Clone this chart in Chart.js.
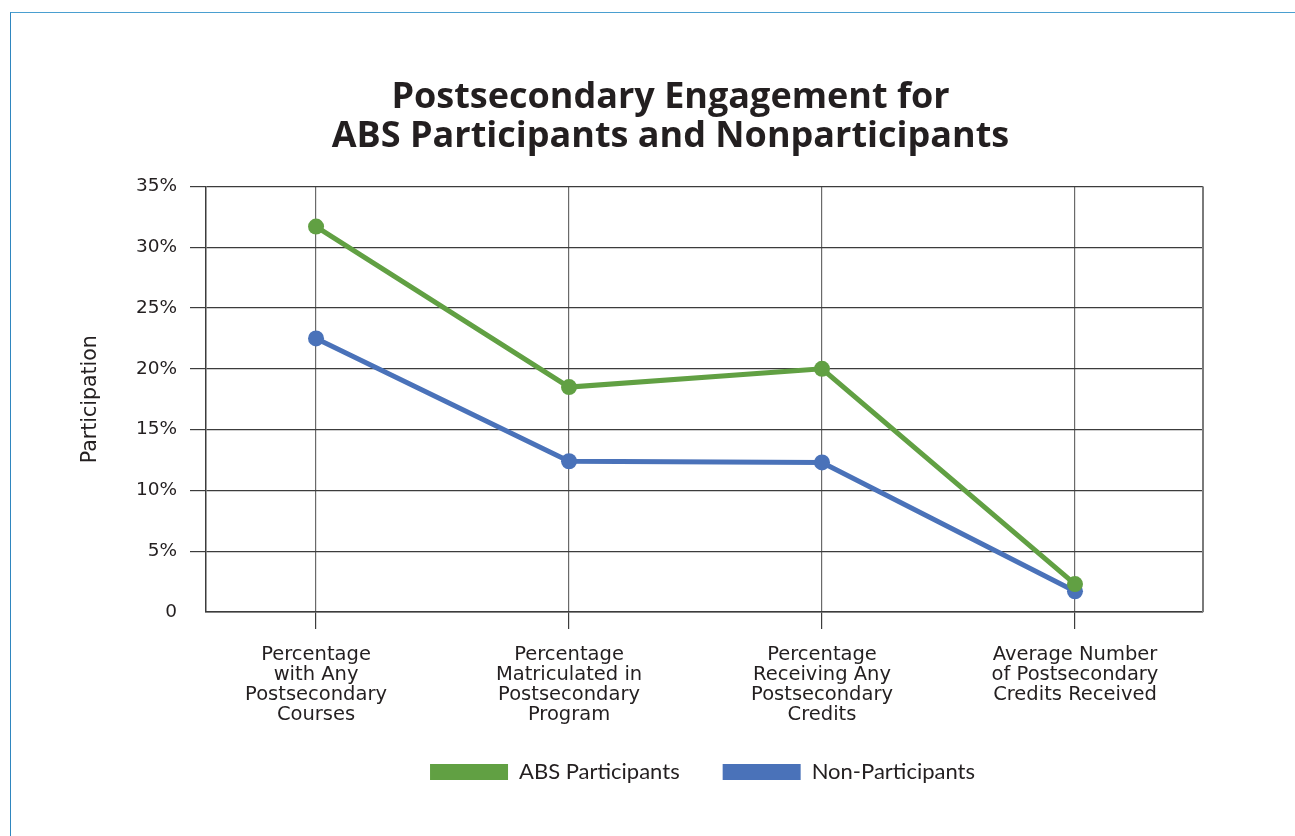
<!DOCTYPE html>
<html>
<head>
<meta charset="utf-8">
<script src="https://cdn.jsdelivr.net/npm/chart.js@4.4.0/dist/chart.umd.min.js"></script>
<style>
  html, body { margin: 0; padding: 0; background: #ffffff; }
  #wrap { position: relative; width: 1295px; height: 836px; overflow: hidden; }
  #frame { position: absolute; left: 10px; top: 12px; right: -5px; bottom: -5px;
           border-left: 1.5px solid #2f86bf; border-top: 1.5px solid #4a9fd0; }
  canvas { position: absolute; left: 0; top: 0; }
</style>
</head>
<body>
<div id="wrap">
  <div id="frame"></div>
  <canvas id="c" width="1295" height="836"></canvas>
</div>
<script>
const categories = [
  ["Percentage", "with Any", "Postsecondary", "Courses"],
  ["Percentage", "Matriculated in", "Postsecondary", "Program"],
  ["Percentage", "Receiving Any", "Postsecondary", "Credits"],
  ["Average Number", "of Postsecondary", "Credits Received"]
];
const absParticipants = [31.7, 18.5, 20.0, 2.3];
const nonParticipants = [22.5, 12.4, 12.3, 1.7];
const yTicks = [0, 5, 10, 15, 20, 25, 30, 35];
const seriesNames = ["ABS Participants", "Non-Participants"];
const chartTitle = ["Postsecondary Engagement for", "ABS Participants and Nonparticipants"];
const yAxisTitle = "Participation";

const GREEN = '#61a043';
const BLUE = '#4a72b9';
const GRID = '#3c3c3c';
const VGRID = '#6a6a6a';
const AXIS_FONT = "'DejaVu Sans'";

const shiftPlugin = {
  id: 'shiftBlocks',
  afterLayout(chart) {
    const t = chart.titleBlock;
    if (t) { t.left += 31; t.right += 31; }
    const l = chart.legend;
    if (l) { l.left += 63; l.right += 63; l.top -= 23; l.bottom -= 23; }
  },
  beforeDatasetsDraw(chart) {
    const {ctx, chartArea} = chart;
    ctx.save();
    ctx.strokeStyle = '#7a7a7a';
    ctx.lineWidth = 2;
    ctx.beginPath();
    ctx.moveTo(chartArea.right, chartArea.top);
    ctx.lineTo(chartArea.right, chartArea.bottom);
    ctx.stroke();
    ctx.restore();
  }
};

new Chart(document.getElementById('c'), {
  type: 'line',
  data: {
    datasets: [
      {
        label: seriesNames[0],
        data: absParticipants.map((v, i) => ({x: i, y: v})),
        borderColor: GREEN,
        backgroundColor: GREEN,
        borderWidth: 5,
        pointRadius: 8,
        pointHoverRadius: 8,
        pointBackgroundColor: GREEN,
        pointBorderWidth: 0,
        tension: 0,
        order: 1
      },
      {
        label: seriesNames[1],
        data: nonParticipants.map((v, i) => ({x: i, y: v})),
        borderColor: BLUE,
        backgroundColor: BLUE,
        borderWidth: 5,
        pointRadius: 8,
        pointHoverRadius: 8,
        pointBackgroundColor: BLUE,
        pointBorderWidth: 0,
        tension: 0,
        order: 2
      }
    ]
  },
  options: {
    responsive: false,
    animation: false,
    layout: { padding: { left: 76, right: 92, top: 12, bottom: 20 } },
    plugins: {
      title: {
        display: true,
        text: chartTitle,
        color: '#231f20',
        font: { family: "'Open Sans'", weight: 'bold', size: 36, lineHeight: 1.09 },
        padding: { top: 66, bottom: 30 }
      },
      legend: {
        display: true,
        position: 'bottom',
        labels: {
          color: '#231f20',
          font: { family: "Lato", size: 22 },
          boxWidth: 78,
          boxHeight: 16,
          padding: 43,
          generateLabels(chart) {
            return chart.data.datasets.map((ds, i) => ({
              text: ds.label,
              fillStyle: ds.borderColor,
              strokeStyle: ds.borderColor,
              lineWidth: 0,
              hidden: false,
              datasetIndex: i,
              fontColor: '#231f20'
            }));
          }
        }
      },
      tooltip: { enabled: false }
    },
    scales: {
      x: {
        type: 'linear',
        min: -0.435,
        max: 3.506,
        afterBuildTicks(scale) {
          scale.ticks = categories.map((c, i) => ({ value: i }));
        },
        ticks: {
          autoSkip: false,
          maxRotation: 0,
          padding: 16,
          color: '#231f20',
          font: { family: AXIS_FONT, size: 19.5, lineHeight: 20 / 19.5 },
          callback: (v) => categories[v]
        },
        grid: {
          color: VGRID,
          tickColor: GRID,
          lineWidth: 1.2,
          tickLength: 17,
          drawTicks: true
        },
        border: { display: true, color: GRID, width: 1.5 }
      },
      y: {
        min: 0,
        max: 35,
        afterBuildTicks(scale) {
          scale.ticks = yTicks.map(v => ({ value: v }));
        },
        afterFit(scale) { scale.width = 130; },
        ticks: {
          padding: 13,
          color: '#231f20',
          font: { family: AXIS_FONT, size: 18.5 },
          callback: (v) => v === 0 ? '0' : v + '%'
        },
        grid: {
          color: GRID,
          lineWidth: 1.2,
          tickLength: 16,
          tickColor: (ctx) => (ctx.tick && ctx.tick.value === 0) ? 'rgba(0,0,0,0)' : GRID
        },
        border: { display: true, color: GRID, width: 1.5 },
        title: {
          display: true,
          text: yAxisTitle,
          color: '#231f20',
          font: { family: AXIS_FONT, size: 20.5 },
          padding: { top: 2, bottom: 0 }
        }
      }
    }
  },
  plugins: [shiftPlugin]
});
</script>
</body>
</html>
